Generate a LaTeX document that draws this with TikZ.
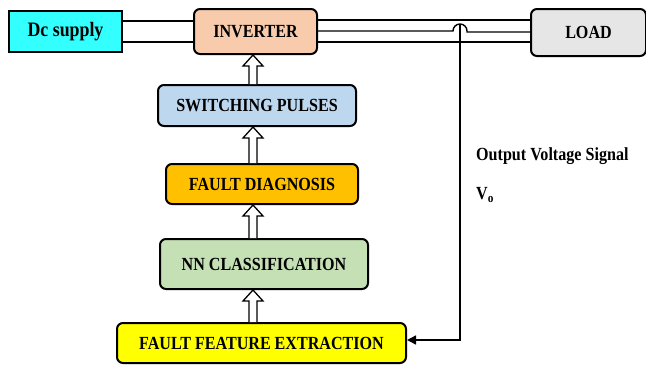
\documentclass[tikz,border=0pt]{standalone}
\usepackage{fontspec}
\setmainfont{Liberation Serif}
\newfontfamily\tallserif[FakeStretch=0.87]{Liberation Serif}
\usetikzlibrary{arrows.meta,calc}
\definecolor{cdc}{HTML}{33FFFF}
\definecolor{cinv}{HTML}{F8CBAD}
\definecolor{cload}{HTML}{E7E6E6}
\definecolor{csw}{HTML}{BDD7EE}
\definecolor{cfd}{HTML}{FFC000}
\definecolor{cnn}{HTML}{C5E0B4}
\definecolor{cffe}{HTML}{FFFF00}
\tikzset{
  blk/.style={draw=black, line width=2pt, rounded corners=6pt, inner sep=0pt,
    font=\tallserif\fontsize{18.5}{20}\selectfont\bfseries, anchor=north west},
  lbl/.style={anchor=west, inner sep=0pt, font=\tallserif\fontsize{18.5}{20}\selectfont\bfseries},
  wire/.style={line width=1.4pt},
  hollow/.style={draw=black, line width=1.3pt, fill=white, line join=miter},
}
\newcommand{\blockarrow}[2]{%
  \draw[hollow] ($(#1.north -| ax)+(-4,0)$) -- ($(#2.south -| ax)+(-4,11)$)
    -- ($(#2.south -| ax)+(-10,11)$) -- (#2.south -| ax)
    -- ($(#2.south -| ax)+(10,11)$) -- ($(#2.south -| ax)+(4,11)$)
    -- ($(#1.north -| ax)+(4,0)$);}
\begin{document}
\begin{tikzpicture}[x=1pt,y=-1pt]
\useasboundingbox (0,0) rectangle (646,365);
\coordinate (ax) at (253,0);
% boxes
\node[blk, rounded corners=0pt, fill=cdc, minimum width=113pt, minimum height=41pt,
  font=\tallserif\fontsize{20.5}{22}\selectfont\bfseries] (dc) at (8,10) {Dc supply};
\node[blk, fill=cinv, minimum width=123pt, minimum height=45pt] (inv) at (193,8) {INVERTER};
\node[blk, fill=cload, minimum width=115pt, minimum height=47pt] (load) at (530,8) {LOAD};
\node[blk, fill=csw, minimum width=198pt, minimum height=41pt] (sw) at (157,84) {SWITCHING PULSES};
\node[blk, fill=cfd, minimum width=192pt, minimum height=40pt] (fd) at (165,163) {FAULT DIAGNOSIS};
\node[blk, fill=cnn, minimum width=208pt, minimum height=50pt] (nn) at (159,238) {NN CLASSIFICATION};
\node[blk, fill=cffe, minimum width=289pt, minimum height=40pt] (ffe) at (116,322) {FAULT FEATURE EXTRACTION};
% wires dc -> inverter
\draw[wire] (dc.east |- 0,21) -- (inv.west |- 0,21);
\draw[wire] (dc.east |- 0,42) -- (inv.west |- 0,42);
% wires inverter -> load
\draw[wire] (inv.east |- 0,20) -- (load.west |- 0,20);
\draw[wire] (inv.east |- 0,42) -- (load.west |- 0,42);
\coordinate (hopL) at (453,31);
\coordinate (hopR) at (467,32);
\draw[wire] (inv.east |- 0,31) -- (hopL) arc[start angle=180, end angle=0, radius=7pt] -- (hopR) -- (load.west |- 0,32);
% feedback
\coordinate (tap) at (460,25);
\coordinate (corner) at (460,340);
\draw[wire, -{Triangle[length=9pt,width=9pt]}] (tap) -- (corner) -- (ffe.east |- corner);
% hollow arrows
\blockarrow{sw}{inv}
\blockarrow{fd}{sw}
\blockarrow{nn}{fd}
\blockarrow{ffe}{nn}
% labels
\node[lbl] (ovs) at (476,156) {Output Voltage Signal};
\node[lbl] (vo) at (476,195) {V\textsubscript{o}};
\end{tikzpicture}
\end{document}
